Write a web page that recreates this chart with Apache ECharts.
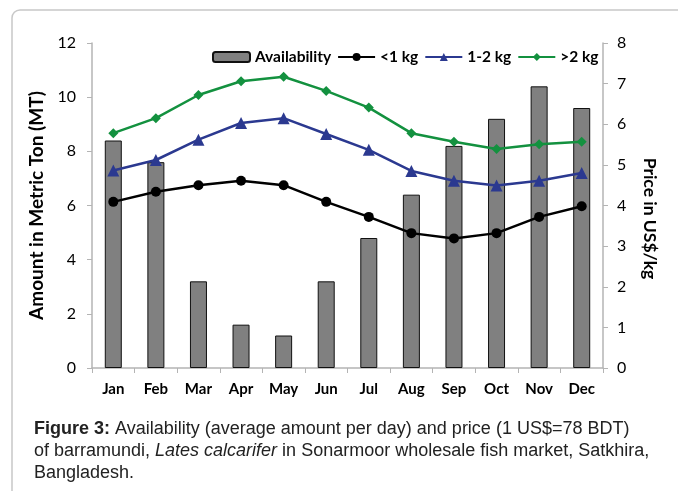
<!DOCTYPE html>
<html>
<head>
<meta charset="utf-8">
<script src="https://cdn.jsdelivr.net/npm/echarts@6/dist/echarts.min.js"></script>
<style>
  html, body { margin: 0; padding: 0; background: #fff; }
  #chart { width: 678px; height: 491px; }
</style>
</head>
<body>
<div id="chart"></div>
<script>
const months = ['Jan', 'Feb', 'Mar', 'Apr', 'May', 'Jun', 'Jul', 'Aug', 'Sep', 'Oct', 'Nov', 'Dec'];
const availability = [8.4, 7.6, 3.2, 1.6, 1.2, 3.2, 4.8, 6.4, 8.2, 9.2, 10.4, 9.6];
const priceSmall = [4.09, 4.34, 4.50, 4.61, 4.50, 4.09, 3.72, 3.32, 3.19, 3.32, 3.72, 3.98];
const priceMid = [4.86, 5.12, 5.62, 6.03, 6.15, 5.76, 5.37, 4.85, 4.61, 4.49, 4.61, 4.80];
const priceLarge = [5.78, 6.15, 6.72, 7.06, 7.17, 6.82, 6.41, 5.78, 5.57, 5.39, 5.51, 5.57];

const axisGray = '#b4b4b4';
const font = 'Lato';

const chart = echarts.init(document.getElementById('chart'));

const lineSeries = (name, data, color, symbol, size) => ({
  name: name,
  type: 'line',
  yAxisIndex: 1,
  data: data,
  symbol: symbol,
  symbolSize: size,
  showSymbol: true,
  lineStyle: { color: color, width: 2.5 },
  itemStyle: { color: color },
  z: 3
});

const option = {
  animation: false,
  textStyle: { fontFamily: font },
  graphic: [
    {
      type: 'rect',
      shape: { x: 12, y: 10, width: 720, height: 520, r: 8 },
      style: { fill: 'none', stroke: '#c8c8c8', lineWidth: 1.5 },
      z: -1
    }
  ],
  title: {
    left: 29,
    top: 413,
    text: '{b|Figure 3:} Availability (average amount per day) and price (1 US$=78 BDT)\nof barramundi, {i|Lates calcarifer} in Sonarmoor wholesale fish market, Satkhira,\nBangladesh.',
    textStyle: {
      fontFamily: 'Liberation Sans',
      fontSize: 18,
      fontWeight: 'normal',
      color: '#222',
      lineHeight: 22,
      rich: {
        b: { fontFamily: 'Liberation Sans', fontSize: 18, fontWeight: 'bold', color: '#222', lineHeight: 22 },
        i: { fontFamily: 'Liberation Sans', fontSize: 18, fontStyle: 'italic', color: '#222', lineHeight: 22 }
      }
    }
  },
  legend: {
    left: 207,
    top: 44,
    itemWidth: 37,
    itemHeight: 10,
    itemGap: 6,
    textStyle: { fontFamily: font, fontSize: 15.5, fontWeight: 'bold', color: '#000' },
    data: ['Availability', '<1 kg', '1-2 kg', '>2 kg']
  },
  grid: { left: 92, right: 75, top: 43, bottom: 123 },
  xAxis: {
    type: 'category',
    data: months,
    axisLine: { lineStyle: { color: axisGray, width: 1.5 } },
    axisTick: { show: true, length: 5, lineStyle: { color: axisGray } },
    axisLabel: { fontFamily: font, fontSize: 15, fontWeight: 'bold', color: '#000', margin: 14 }
  },
  yAxis: [
    {
      type: 'value',
      min: 0,
      max: 12,
      interval: 2,
      name: 'Amount in Metric Ton (MT)',
      nameLocation: 'middle',
      nameGap: 38,
      nameTextStyle: { fontFamily: font, fontSize: 19, fontWeight: 'bold', color: '#000' },
      axisLine: { show: true, lineStyle: { color: axisGray, width: 1.5 } },
      axisTick: { show: true, length: 5, lineStyle: { color: axisGray } },
      axisLabel: { fontFamily: font, fontSize: 16, color: '#000', margin: 16 },
      splitLine: { show: false }
    },
    {
      type: 'value',
      min: 0,
      max: 8,
      interval: 1,
      name: 'Price in US$/kg',
      nameLocation: 'middle',
      nameGap: 38,
      nameRotate: -90,
      nameTextStyle: { fontFamily: font, fontSize: 17.5, fontWeight: 'bold', color: '#000', padding: [0, 0, 0, 26] },
      axisLine: { show: true, lineStyle: { color: axisGray, width: 1.5 } },
      axisTick: { show: true, length: 5, lineStyle: { color: axisGray } },
      axisLabel: { fontFamily: font, fontSize: 16, color: '#000', margin: 14 },
      splitLine: { show: false }
    }
  ],
  series: [
    {
      name: 'Availability',
      type: 'bar',
      data: availability,
      barWidth: 17,
      itemStyle: { color: '#808080', borderColor: '#111', borderWidth: 1 },
      z: 2
    },
    lineSeries('<1 kg', priceSmall, '#000000', 'circle', 10),
    lineSeries('1-2 kg', priceMid, '#2b3990', 'triangle', 12),
    lineSeries('>2 kg', priceLarge, '#13913f', 'diamond', 10)
  ]
};

chart.setOption(option);
</script>
</body>
</html>
